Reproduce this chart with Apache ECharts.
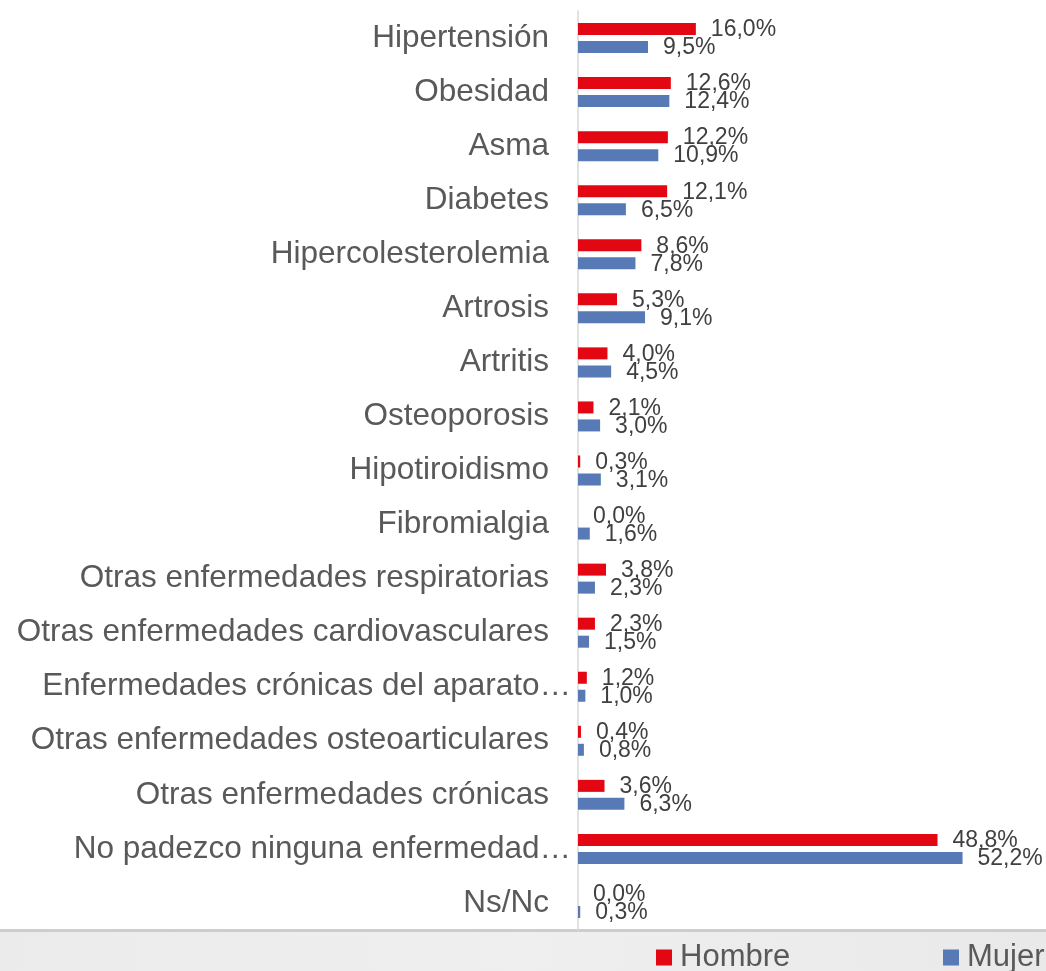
<!DOCTYPE html>
<html>
<head>
<meta charset="utf-8">
<script src="https://cdn.jsdelivr.net/npm/echarts@6/dist/echarts.min.js"></script>
<style>
html,body{margin:0;padding:0;background:#fff;}
#chart{width:1046px;height:971px;}
</style>
</head>
<body>
<div id="chart"></div>
<script>
var categories = ["Hipertensión","Obesidad","Asma","Diabetes","Hipercolesterolemia","Artrosis","Artritis","Osteoporosis","Hipotiroidismo","Fibromialgia","Otras enfermedades respiratorias","Otras enfermedades cardiovasculares","Enfermedades crónicas del aparato…","Otras enfermedades osteoarticulares","Otras enfermedades crónicas","No padezco ninguna enfermedad…","Ns/Nc"];
var hombre = [16.0,12.6,12.2,12.1,8.6,5.3,4.0,2.1,0.3,0.0,3.8,2.3,1.2,0.4,3.6,48.8,0.0];
var mujer = [9.5,12.4,10.9,6.5,7.8,9.1,4.5,3.0,3.1,1.6,2.3,1.5,1.0,0.8,6.3,52.2,0.3];
var seriesNames = ["Hombre","Mujer"];
var seriesColors = ["#e30613","#5779b6"];

var FONT = "'Liberation Sans', Arial, sans-serif";
function fmt(p){ return p.value.toFixed(1).replace('.', ',') + '%'; }
function labelCfg(){
  return {show:true, position:'right', distance:15, formatter:fmt,
          fontFamily:FONT, fontSize:23, color:'#404040', offset:[0,1]};
}
function legendCfg(name, left){
  return {left:left, top:937, itemWidth:16, itemHeight:16, icon:'rect',
    textStyle:{fontFamily:FONT, fontSize:31, color:'#595959', padding:[0,0,0,3]},
    data:[name]};
}
// truncated labels (ending with an ellipsis) overhang the axis slightly, as in the source
var yData = categories.map(function(c){
  if (c.charAt(c.length-1) === '…') {
    return {value:c, textStyle:{padding:[0,-22,0,0]}};
  }
  return c;
});
var chart = echarts.init(document.getElementById('chart'), null, {renderer:'canvas'});
chart.setOption({
  backgroundColor:'#ffffff',
  animation:false,
  graphic:[
    {type:'rect', z:-10, shape:{x:0,y:932,width:1046,height:39},
     style:{fill:new echarts.graphic.LinearGradient(0,0,1,0,[{offset:0,color:'#ebebeb'},{offset:0.5,color:'#efefef'},{offset:1,color:'#e9e9e9'}])}},
    {type:'rect', z:-9, shape:{x:0,y:929,width:1046,height:3}, style:{fill:'#cdcdcd'}}
  ],
  grid:{left:578, right:26, top:11, bottom:41, containLabel:false},
  xAxis:{type:'value', min:0, max:60, show:false, splitLine:{show:false}},
  yAxis:{type:'category', data:yData, inverse:true,
    axisLine:{show:true, lineStyle:{color:'#d9d9d9', width:1.5}},
    axisTick:{show:false},
    axisLabel:{margin:29, fontFamily:FONT, fontSize:31.5, color:'#595959'}
  },
  legend:[legendCfg(seriesNames[0], 651), legendCfg(seriesNames[1], 938)],
  series:[
    {name:seriesNames[0], type:'bar', data:hombre, barWidth:12, barGap:'50%',
     itemStyle:{color:seriesColors[0]}, label:labelCfg()},
    {name:seriesNames[1], type:'bar', data:mujer, barWidth:12, barGap:'50%',
     itemStyle:{color:seriesColors[1]}, label:labelCfg()}
  ]
});
</script>
</body>
</html>
